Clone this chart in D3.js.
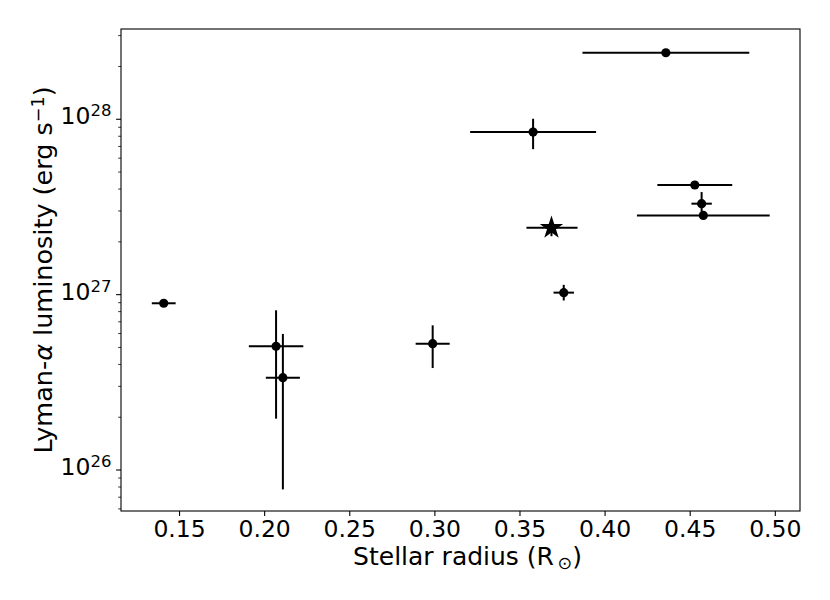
<!DOCTYPE html>
<html>
<head>
<meta charset="utf-8">
<script src="https://cdn.jsdelivr.net/npm/d3@7"></script>
<style>
  body { margin: 0; background: #fff; }
  text { font-family: "DejaVu Sans", sans-serif; fill: #000; }
</style>
</head>
<body>
<div id="chart"></div>
<script>
// sample stars: radius (R_sun) and Lyman-alpha luminosity (erg/s)
var radius   = [0.141, 0.207, 0.211, 0.299, 0.358, 0.376, 0.436, 0.453, 0.457, 0.458];
var radiusLo = [0.134, 0.191, 0.201, 0.289, 0.321, 0.370, 0.387, 0.431, 0.451, 0.419];
var radiusHi = [0.148, 0.223, 0.221, 0.309, 0.395, 0.382, 0.485, 0.475, 0.463, 0.497];
var lum      = [8.87e26, 5.04e26, 3.34e26, 5.22e26, 8.40e27, 1.02e27, 2.38e28, 4.19e27, 3.28e27, 2.81e27];
var lumLo    = [8.87e26, 1.95e26, 7.7e25, 3.79e26, 6.71e27, 9.2e26, 2.38e28, 4.19e27, 2.95e27, 2.81e27];
var lumHi    = [8.87e26, 8.09e26, 5.93e26, 6.64e26, 1.0e28, 1.13e27, 2.38e28, 4.19e27, 3.82e27, 2.81e27];

// the target star (drawn as a star marker)
var targetRadius = [0.3688];
var targetRadiusLo = [0.3541];
var targetRadiusHi = [0.3841];
var targetLum = [2.39e27];
var targetLumLo = [2.14e27];
var targetLumHi = [2.64e27];

var xTicks = [0.15, 0.20, 0.25, 0.30, 0.35, 0.40, 0.45, 0.50];
var yMajor = [1e26, 1e27, 1e28];

var svgWidth = 830;
var svgHeight = 600;
var margin = { top: 29, bottom: 89, left: 121, right: 30 };
var width = svgWidth - margin.left - margin.right;
var height = svgHeight - margin.top - margin.bottom;

var svg = d3.select("#chart")
  .append("svg")
  .attr("width", svgWidth)
  .attr("height", svgHeight);

var chartGroup = svg.append("g")
  .attr("transform", `translate(${margin.left}, ${margin.top})`);

// scales
var xScale = d3.scaleLinear()
  .domain([0.1159, 0.5148])
  .range([0, width]);

var yScale = d3.scaleLog()
  .domain([5.8e25, 3.25e28])
  .range([height, 0]);

// minor ticks 2..9 of every decade inside the domain
var yMinor = [];
[25, 26, 27, 28].forEach(function(e) {
  for (var k = 2; k <= 9; k++) {
    var v = k * Math.pow(10, e);
    if (v >= yScale.domain()[0] && v <= yScale.domain()[1]) yMinor.push(v);
  }
});

// x axis
var xAxis = d3.axisBottom(xScale)
  .tickValues(xTicks)
  .tickFormat(d3.format(".2f"))
  .tickSize(4.9)
  .tickPadding(4.4);

var xg = chartGroup.append("g")
  .attr("transform", `translate(0, ${height})`)
  .call(xAxis);
xg.select(".domain").remove();
xg.selectAll(".tick line").attr("stroke", "#000").attr("stroke-width", 1.1);
xg.selectAll(".tick text")
  .style("font-size", "23.5px")
  .attr("font-family", "DejaVu Sans")
  .attr("fill", "#000");

// y axis: minor ticks
var yMinorAxis = d3.axisLeft(yScale)
  .tickValues(yMinor)
  .tickSize(2.8)
  .tickFormat("");
var ymg = chartGroup.append("g").call(yMinorAxis);
ymg.select(".domain").remove();
ymg.selectAll(".tick line").attr("stroke", "#000").attr("stroke-width", 0.8);

// y axis: major ticks with 10^n labels
var yAxis = d3.axisLeft(yScale)
  .tickValues(yMajor)
  .tickSize(4.9)
  .tickFormat("");
var yg = chartGroup.append("g").call(yAxis);
yg.select(".domain").remove();
yg.selectAll(".tick line").attr("stroke", "#000").attr("stroke-width", 1.1);

var yLabels = chartGroup.selectAll("text.ylab")
  .data(yMajor)
  .enter()
  .append("text")
  .classed("ylab", true)
  .attr("x", -9.6)
  .attr("y", d => yScale(d) + 5.5)
  .attr("text-anchor", "end")
  .style("font-size", "23.5px");
yLabels.append("tspan").text("10");
yLabels.append("tspan")
  .attr("dy", -8)
  .style("font-size", "16.5px")
  .text(d => Math.round(Math.log10(d)));

// frame
chartGroup.append("rect")
  .attr("x", 0)
  .attr("y", 0)
  .attr("width", width)
  .attr("height", height)
  .attr("fill", "none")
  .attr("stroke", "#000")
  .attr("stroke-width", 1.1);

// error bars
var idx = d3.range(radius.length);
var bars = chartGroup.append("g")
  .attr("stroke", "#000")
  .attr("stroke-width", 2);

bars.selectAll("line.xerr")
  .data(idx)
  .enter()
  .append("line")
  .attr("x1", i => xScale(radiusLo[i]))
  .attr("x2", i => xScale(radiusHi[i]))
  .attr("y1", i => yScale(lum[i]))
  .attr("y2", i => yScale(lum[i]));

bars.selectAll("line.yerr")
  .data(idx.filter(i => lumHi[i] > lumLo[i]))
  .enter()
  .append("line")
  .attr("x1", i => xScale(radius[i]))
  .attr("x2", i => xScale(radius[i]))
  .attr("y1", i => yScale(lumLo[i]))
  .attr("y2", i => yScale(lumHi[i]));

// target star error bars
bars.append("line")
  .attr("x1", xScale(targetRadiusLo[0]))
  .attr("x2", xScale(targetRadiusHi[0]))
  .attr("y1", yScale(targetLum[0]))
  .attr("y2", yScale(targetLum[0]));
bars.append("line")
  .attr("x1", xScale(targetRadius[0]))
  .attr("x2", xScale(targetRadius[0]))
  .attr("y1", yScale(targetLumLo[0]))
  .attr("y2", yScale(targetLumHi[0]));

// markers
chartGroup.selectAll("circle")
  .data(idx)
  .enter()
  .append("circle")
  .attr("cx", i => xScale(radius[i]))
  .attr("cy", i => yScale(lum[i]))
  .attr("r", 4.6)
  .attr("fill", "#000");

chartGroup.append("path")
  .attr("d", d3.symbol().type(d3.symbolStar).size(170)())
  .attr("transform", `translate(${xScale(targetRadius[0])}, ${yScale(targetLum[0])})`)
  .attr("fill", "#000");

// x label
var xLabel = chartGroup.append("text")
  .attr("x", width / 2 + 7)
  .attr("y", height + 54)
  .attr("text-anchor", "middle")
  .style("font-size", "25px");
xLabel.append("tspan").text("Stellar radius (R");
xLabel.append("tspan").attr("dy", 4).style("font-size", "17.5px").text("\u2009\u2299");
xLabel.append("tspan").attr("dy", -4).text(")");

// y label
var yLabel = chartGroup.append("text")
  .attr("transform", "rotate(-90)")
  .attr("x", -height / 2)
  .attr("y", 52 - margin.left)
  .attr("text-anchor", "middle")
  .style("font-size", "25.5px");
yLabel.append("tspan").text("Lyman-");
yLabel.append("tspan").style("font-style", "italic").text("\u03b1");
yLabel.append("tspan").text(" luminosity (erg s");
yLabel.append("tspan").attr("dy", -8.5).style("font-size", "17.5px").text("\u22121");
yLabel.append("tspan").attr("dy", 8.5).text(")");
</script>
</body>
</html>
